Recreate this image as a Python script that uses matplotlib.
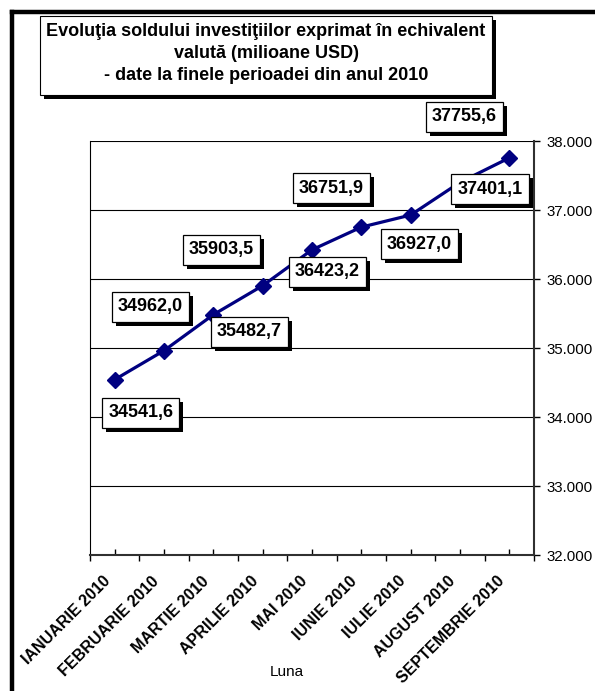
import matplotlib
matplotlib.use("Agg")
import matplotlib.pyplot as plt
from matplotlib.ticker import FixedLocator, FuncFormatter
from matplotlib.patches import Rectangle
from matplotlib.lines import Line2D
import matplotlib.transforms as mtransforms

plt.rcParams['font.family'] = ['Liberation Sans', 'DejaVu Sans']

# ---- data ----
months = ["IANUARIE 2010", "FEBRUARIE 2010", "MARTIE 2010", "APRILIE 2010",
          "MAI 2010", "IUNIE 2010", "IULIE 2010", "AUGUST 2010", "SEPTEMBRIE 2010"]
values = [34541.6, 34962.0, 35482.7, 35903.5, 36423.2, 36751.9, 36927.0, 37401.1, 37755.6]
value_labels = ["34541,6", "34962,0", "35482,7", "35903,5", "36423,2",
                "36751,9", "36927,0", "37401,1", "37755,6"]
yticks = [32000, 33000, 34000, 35000, 36000, 37000, 38000]
title_lines = ["Evoluţia soldului investiţiilor exprimat în echivalent",
               "valută (milioane USD)",
               "- date la finele perioadei din anul 2010"]
xlabel = "Luna"

# label box centre offsets in pixels (dx right, dy down) relative to the point
label_offsets = [(26, 33), (-14, -44), (36, 17), (-41, -36), (15, 22),
                 (-30, -39), (9, 29), (30, 7), (-45, -41)]

W, H = 595, 691
DPI = 100
fig = plt.figure(figsize=(W / DPI, H / DPI), dpi=DPI)
fig.patch.set_facecolor('white')

def fx(px):
    return px / W

def fy(py):
    return 1 - py / H

# outer frame (left and top thick lines)
fig.add_artist(Line2D([fx(12), fx(12)], [fy(12), fy(H + 5)], color='black', lw=3.2,
                      transform=fig.transFigure, solid_capstyle='projecting'))
fig.add_artist(Line2D([fx(12), fx(W + 5)], [fy(12), fy(12)], color='black', lw=3.2,
                      transform=fig.transFigure, solid_capstyle='projecting'))

# title box with shadow
tb_l, tb_t, tb_r, tb_b = 40, 16, 492, 95
sh = 4
fig.add_artist(Rectangle((fx(tb_l + sh), fy(tb_b + sh)), fx(tb_r - tb_l), (tb_b - tb_t) / H,
                         transform=fig.transFigure, fc='black', ec='black', lw=0, zorder=1))
fig.add_artist(Rectangle((fx(tb_l), fy(tb_b)), fx(tb_r - tb_l), (tb_b - tb_t) / H,
                         transform=fig.transFigure, fc='white', ec='black', lw=0.8, zorder=2))
for line, yy in zip(title_lines, [32, 54, 76]):
    fig.text(fx((tb_l + tb_r) / 2), fy(yy), line, ha='center', va='center',
             fontsize=13, fontweight='bold', zorder=3)

# axes
ax_l, ax_r, ax_t, ax_b = 90, 534, 141, 555
ax = fig.add_axes([fx(ax_l), fy(ax_b), fx(ax_r - ax_l), (ax_b - ax_t) / H])
ax.set_facecolor('white')

n = len(values)
xs = [i + 0.5 for i in range(n)]
ax.plot(xs, values, color='#000080', lw=2.3, marker='D', ms=8.5, mfc='#000080',
        mec='#000080', zorder=3, clip_on=False)

ax.set_xlim(0, n)
ax.set_ylim(yticks[0], yticks[-1])

# grid lines
for yv in yticks[1:]:
    ax.axhline(yv, color='black', lw=0.8, zorder=1)

# y axis on the right
ax.yaxis.tick_right()
ax.yaxis.set_major_locator(FixedLocator(yticks))
ax.yaxis.set_major_formatter(FuncFormatter(lambda v, p: f"{v:,.0f}".replace(',', '.')))
ax.tick_params(axis='y', direction='out', length=4, width=1, pad=5, labelsize=10.8,
               right=True, left=False)

# x axis: major ticks at category borders (out), minor ticks at centres (in) with labels
ax.xaxis.set_major_locator(FixedLocator(list(range(n + 1))))
ax.xaxis.set_minor_locator(FixedLocator(xs))
ax.xaxis.set_major_formatter(FuncFormatter(lambda v, p: ""))
ax.set_xticks(xs, months, minor=True)
ax.tick_params(axis='x', which='major', direction='out', length=4, width=1)
ax.tick_params(axis='x', which='minor', direction='in', length=4, width=1, pad=17)
offset = mtransforms.ScaledTranslation(-7 / DPI, 0, fig.dpi_scale_trans)
for lab in ax.xaxis.get_minorticklabels():
    lab.set_rotation(45)
    lab.set_ha('right')
    lab.set_va('center')
    lab.set_rotation_mode('anchor')
    lab.set_fontweight('bold')
    lab.set_fontsize(11.5)
    lab.set_transform(lab.get_transform() + offset)

ax.spines['left'].set_linewidth(0.8)
ax.spines['top'].set_visible(False)
ax.spines['right'].set_linewidth(1.5)
ax.spines['right'].set_color('#303030')
ax.spines['bottom'].set_linewidth(1.5)
ax.spines['bottom'].set_color('#303030')

# data labels: white boxes with black shadow
bw, bh = 77, 30
for x, v, txt, (dx, dy) in zip(xs, values, value_labels, label_offsets):
    tr = fig.dpi_scale_trans + mtransforms.ScaledTranslation(x, v, ax.transData)
    cx, cy = dx / DPI, -dy / DPI
    shadow = Rectangle((cx - bw / 2 / DPI + sh / DPI, cy - bh / 2 / DPI - sh / DPI),
                       bw / DPI, bh / DPI, transform=tr, fc='black', ec='black', lw=0,
                       zorder=5, clip_on=False)
    box = Rectangle((cx - bw / 2 / DPI, cy - bh / 2 / DPI), bw / DPI, bh / DPI,
                    transform=tr, fc='white', ec='black', lw=0.9, zorder=6, clip_on=False)
    ax.add_patch(shadow)
    ax.add_patch(box)
    ax.text(cx, cy, txt, transform=tr, ha='center', va='center', fontsize=13,
            fontweight='bold', zorder=7, clip_on=False)

fig.text(fx(287), fy(672), xlabel, ha='center', va='center', fontsize=11)

fig.savefig("out.png", dpi=DPI, facecolor='white')
